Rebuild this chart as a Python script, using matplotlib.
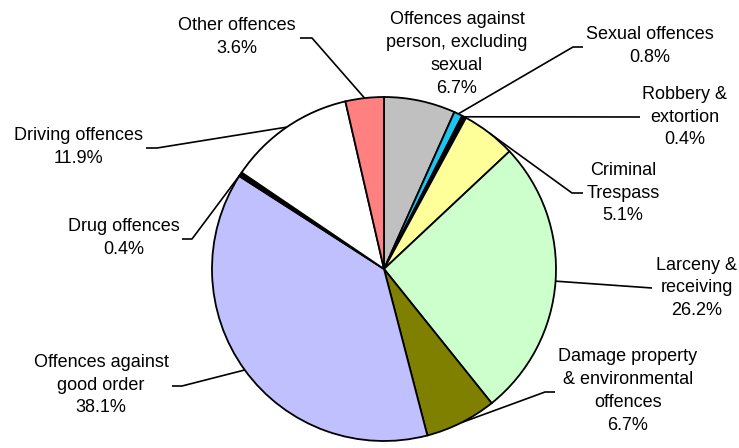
import math

import matplotlib
matplotlib.use("Agg")
import matplotlib.pyplot as plt

W, H = 739, 448

# slices, clockwise from 12 o'clock
labels = [
    "Offences against\nperson, excluding\nsexual",
    "Sexual offences",
    "Robbery &\nextortion",
    "Criminal\nTrespass",
    "Larceny &\nreceiving",
    "Damage property\n& environmental\noffences",
    "Offences against\ngood order",
    "Drug offences",
    "Driving offences",
    "Other offences",
]
shares = [6.7, 0.8, 0.4, 5.1, 26.2, 6.7, 38.1, 0.4, 11.9, 3.6]
colors = ["#C0C0C0", "#1FC3F0", "#000000", "#FFFF99", "#CCFFCC",
          "#808000", "#C0C0FF", "#000000", "#FFFFFF", "#FF8080"]

# label layout in pixels from the top-left corner
label_x = [457, 650, 685, 623, 697, 628, 101, 124, 78, 237]
label_y = [54, 46, 117, 193, 288, 391, 385, 238, 147, 37]
# leader: (outer x, inner x, y) of the short horizontal tick next to the label
ticks = [None, (583, 573, 47), (640, 640, 117), (583, 572, 193),
         (652, 652, 288), (555, 545, 392), (172, 182, 386),
         (182, 192, 239), (146, 157, 148), (300, 312, 38)]

CX, CY, R = 384, 269, 172

plt.rcParams["font.family"] = ["Liberation Sans", "DejaVu Sans"]
fig = plt.figure(figsize=(W / 100, H / 100), dpi=100)
ax = fig.add_axes([0, 0, 1, 1])

ax.pie(
    shares,
    colors=colors,
    startangle=90,
    counterclock=False,
    center=(CX, H - CY),
    radius=R,
    wedgeprops=dict(edgecolor="black", linewidth=1.3),
)

total = sum(shares)
cum = 0.0
for lab, v, lx, ly, tk in zip(labels, shares, label_x, label_y, ticks):
    mid = (cum + v / 2) / total
    cum += v
    ax.text(lx, H - ly, f"{lab}\n{v:.1f}%", ha="center", va="center",
            multialignment="center", linespacing=1.46, fontsize=13,
            color="black")
    if tk is None:
        continue
    ang = math.radians(90 - 360 * mid)
    ex, ey = CX + R * math.cos(ang), (H - CY) + R * math.sin(ang)
    x0, x1, ty = tk
    ax.plot([x0, x1, ex], [H - ty, H - ty, ey], color="black",
            linewidth=1.2, solid_capstyle="butt", zorder=0.5)

ax.set_xlim(0, W)
ax.set_ylim(0, H)
ax.set_aspect("equal")
ax.axis("off")

fig.savefig("out.png", dpi=100)
